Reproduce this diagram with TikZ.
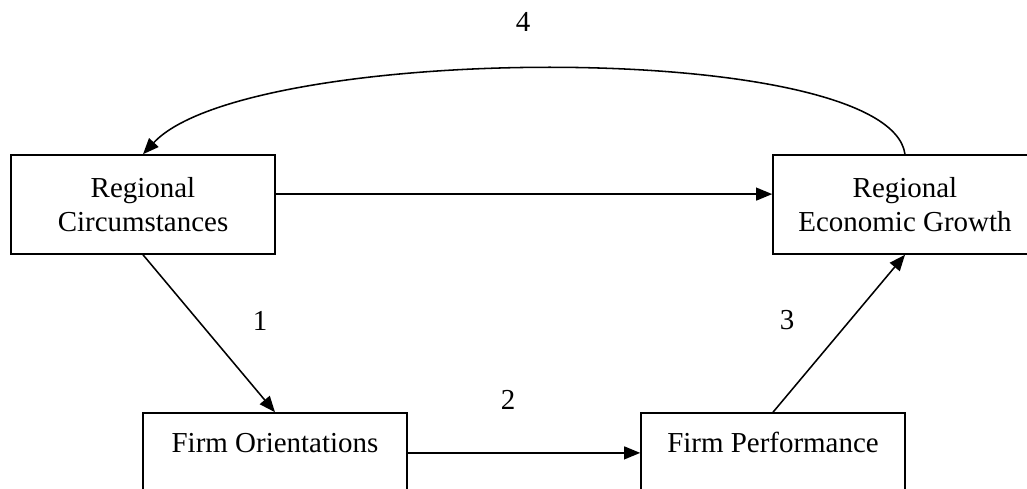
\documentclass[tikz,border=0pt]{standalone}
\usepackage{fontspec}
\setmainfont{Liberation Serif}
\usetikzlibrary{arrows.meta}
\tikzset{
  box/.style={draw, line width=1.1pt, minimum width=6.6cm, minimum height=2.475cm, align=center},
  lowbox/.style={box, inner sep=0pt, text height=0.975cm, text depth=1.5cm},
  link/.style={line width=1.1pt, -{Triangle[length=0.4cm, width=0.32cm]}},
  num/.style={inner sep=1pt}
}
\begin{document}
\begin{tikzpicture}[font=\fontsize{20.6}{24.2}\selectfont]
   \useasboundingbox (0,0) rectangle (25.675,12.2);
   \clip (0,0) rectangle (25.675,12.2);

   \node[box] (circ) at (3.575,7.0875) {Regional\\Circumstances};
   \node[box] (growth) at (22.625,7.0875) {Regional\\Economic Growth};

   \node[lowbox] (orient) at (6.875,0.6375) {Firm Orientations};
   \node[lowbox] (perf) at (19.325,0.6375) {Firm Performance};

   \draw[link] ([yshift=.26cm]circ.east) -- ([yshift=.26cm]growth.west);
   \draw[link] (circ.south) -- (orient.north);
   \draw[link] ([yshift=.24cm]orient.east) -- ([yshift=.24cm]perf.west);
   \draw[link] (perf.north) -- (growth.south);
   \draw[link] (growth.north) .. controls +(-0.4,2.9) and +(2.6,2.8) .. (circ.north);

   \node[num] (one) at (6.5,4.175) {1};
   \node[num] (two) at (12.7,2.2) {2};
   \node[num] (three) at (19.675,4.2) {3};
   \node[num] (four) at (13.075,11.65) {4};

\end{tikzpicture}
\end{document}
